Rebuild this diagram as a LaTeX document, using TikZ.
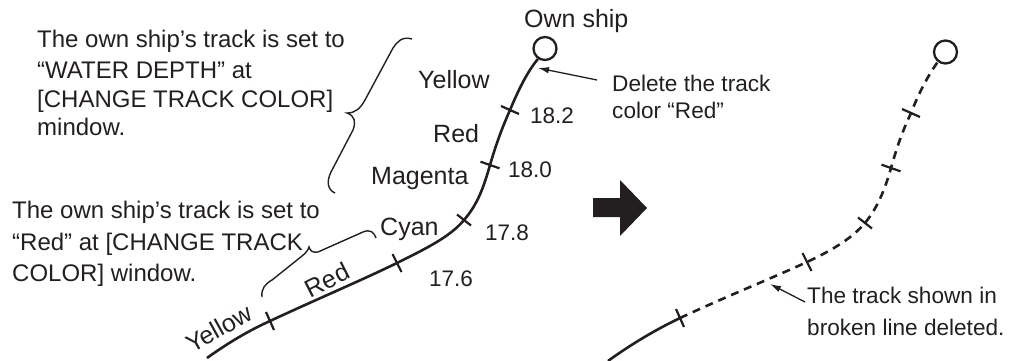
\documentclass[tikz,border=0pt]{standalone}
\usepackage{fontspec}
\setmainfont{Liberation Sans}
\usetikzlibrary{arrows.meta}
\definecolor{ink}{HTML}{231F20}
\begin{document}
\begin{tikzpicture}[x=1pt,y=-1pt,
  blocktxt/.style={anchor=base west,inner sep=0pt,text=ink,font=\fontsize{24}{29}\selectfont},
  sidetxt/.style={anchor=base west,inner sep=0pt,text=ink,font=\fontsize{22.6}{28}\selectfont},
  lbl/.style={anchor=base west,inner sep=0pt,text=ink,font=\fontsize{25}{30}\selectfont},
  numtxt/.style={anchor=base west,inner sep=0pt,text=ink,font=\fontsize{22.5}{27}\selectfont},
  rotlbl/.style={anchor=center,inner sep=0pt,text=ink,font=\fontsize{25}{30}\selectfont},
  track/.style={draw=ink,line width=2.6pt},
  dtrack/.style={draw=ink,line width=2.6pt,dash pattern=on 8pt off 6pt},
  tick/.style={draw=ink,line width=2.2pt},
  shipc/.style={circle,draw=ink,line width=2.3pt,minimum size=23pt,inner sep=0pt},
  bracestroke/.style={draw=ink,line width=1.4pt},
  ptr/.style={draw=ink,line width=1.3pt,-{Latex[length=11pt,width=6.5pt]}}]
\useasboundingbox (0,0) rectangle (1019,361);

% ---------- texts, left side ----------
\node[blocktxt] (u1) at (37,48) {The own ship’s track is set to};
\node[blocktxt] (u2) at (37,78) {“WATER DEPTH” at};
\node[blocktxt] (u3) at (37,107) {[CHANGE TRACK COLOR]};
\node[blocktxt] (u4) at (37,135) {mindow.};

\node[blocktxt] (l1) at (12,218) {The own ship’s track is set to};
\node[blocktxt] (l2) at (12,250) {“Red” at [CHANGE TRACK};
\node[blocktxt] (l3) at (12,281) {COLOR] window.};

\node[lbl] (ownlbl) at (524,28) {Own ship};
\node[sidetxt] (del1) at (612,91) {Delete the track};
\node[sidetxt] (del2) at (612,118) {color “Red”};

\node[lbl] (yel) at (418,88) {Yellow};
\node[lbl] (red) at (433,142) {Red};
\node[lbl] (mag) at (371,184) {Magenta};
\node[lbl] (cyan) at (380,235) {Cyan};
\node[rotlbl,rotate=27] (red2) at (327,280) {Red};
\node[rotlbl,rotate=29] (yel2) at (219,328) {Yellow};

\node[numtxt] (n182) at (530,123) {18.2};
\node[numtxt] (n180) at (508,177) {18.0};
\node[numtxt] (n178) at (485,240) {17.8};
\node[numtxt] (n176) at (429,286) {17.6};

% ---------- left track ----------
\node[shipc] (own) at (545,48.5) {};
\draw[track] (207,358) .. controls (228,343) and (248,331) .. (270,321)
  .. controls (315,300) and (360,281) .. (397,263)
  .. controls (425,249) and (450,237) .. (464,220)
  .. controls (478,204) and (484,186) .. (490,165)
  .. controls (497,141) and (503,126) .. (510,110)
  .. controls (518,91) and (527,72) .. (own.-124);
\draw[tick] (266,312) -- (274,330);
\draw[tick] (392.5,254) -- (401.5,272);
\draw[tick] (457,214.5) -- (471,225.5);
\draw[tick] (480.5,161.7) -- (499.5,168.3);
\draw[tick] (501,106) -- (519,114);

% arrow to own ship track
\coordinate (delS) at (597,80);
\coordinate (delT) at (538,68);
\draw[ptr] (delS) -- (delT);

% ---------- braces ----------
\draw[bracestroke] (412,39) .. controls (402,36) and (397,42) .. (393,48)
  -- (365,100) .. controls (360,109) and (355,113) .. (347,113)
  .. controls (355,116) and (356,122) .. (353,130)
  -- (331,172) .. controls (326,182) and (328,190) .. (335,193);
\draw[bracestroke] (262,297) .. controls (261,289) and (265,284) .. (272,280)
  -- (302,256) .. controls (306,253) and (308,250) .. (309,247)
  .. controls (310,251) and (313,253) .. (318,252)
  -- (363,232) .. controls (370,229) and (374,232) .. (376,238);

% ---------- block arrow ----------
\fill[ink] (593,198) -- (620,198) -- (620,180) -- (647,208) -- (620,236)
  -- (620,217) -- (593,217) -- cycle;

% ---------- right track ----------
\node[shipc] (own2) at (945.5,52) {};
\draw[track] (608,361) .. controls (630,345) and (655,330) .. (680,318);
\draw[dtrack] (680,318) .. controls (725,297) and (770,279) .. (807,262)
  .. controls (835,249) and (853,237) .. (865,223)
  .. controls (878,207) and (885,189) .. (891,168)
  .. controls (898,143) and (904,128) .. (911,113)
  .. controls (918,95) and (927,77) .. (own2.-128);
\draw[tick] (676,309) -- (684,327);
\draw[tick] (802.5,253) -- (811.5,271);
\draw[tick] (858,217.5) -- (872,228.5);
\draw[tick] (881.5,164.7) -- (900.5,171.3);
\draw[tick] (902,109) -- (920,117);

\node[sidetxt] (tr1) at (807,303) {The track shown in};
\node[sidetxt] (tr2) at (807,335) {broken line deleted.};
\coordinate (trS) at (805,302);
\coordinate (trT) at (770,284);
\draw[ptr] (trS) -- (trT);
\end{tikzpicture}
\end{document}
